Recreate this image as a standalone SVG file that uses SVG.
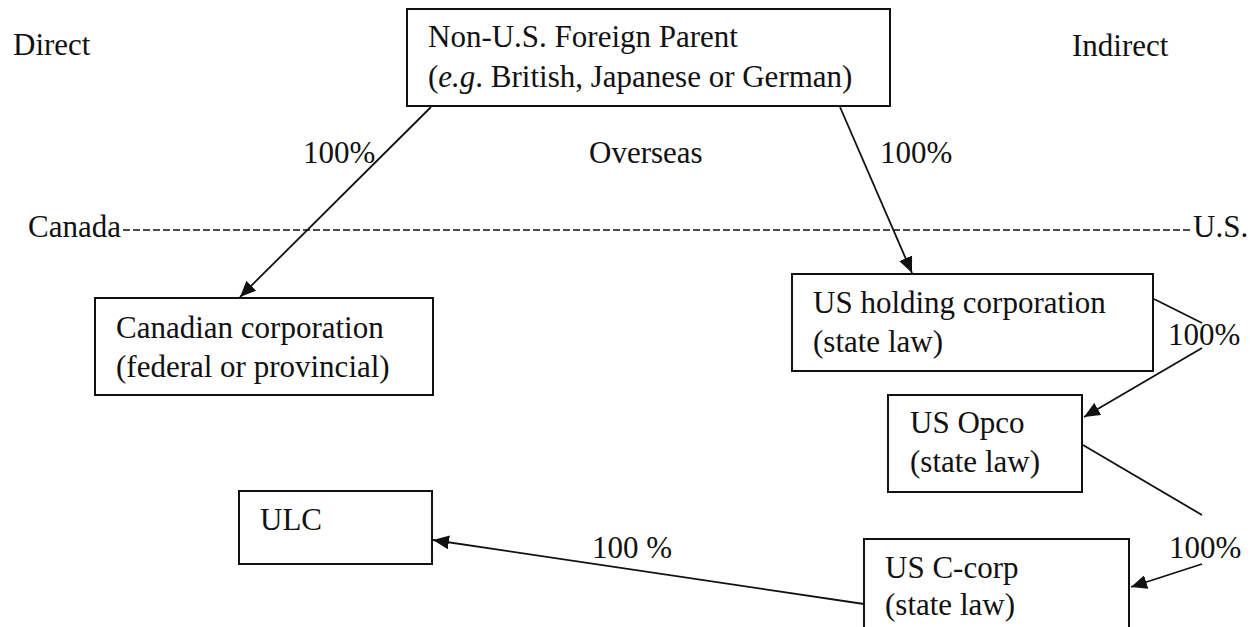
<svg xmlns="http://www.w3.org/2000/svg" width="1253" height="627" viewBox="0 0 1253 627">
<style>
text{font-family:"Liberation Serif","Times New Roman",serif;font-size:31px;fill:#111}
.box{fill:#fff;stroke:#111;stroke-width:2}
.conn{fill:none;stroke:#111;stroke-width:1.8}
.div{fill:none;stroke:#111;stroke-width:1.4;stroke-dasharray:7 3}
</style>
<defs>
<marker id="arr" markerUnits="userSpaceOnUse" markerWidth="18" markerHeight="14" refX="16" refY="7" orient="auto">
<path d="M0,0 L16,7 L0,14 Z" fill="#111"/>
</marker>
</defs>
<rect width="1253" height="627" fill="#fff"/>
<g id="labels">
<text x="13" y="55">Direct</text>
<text x="1072" y="56">Indirect</text>
<text x="589" y="163">Overseas</text>
<text x="28" y="237">Canada</text>
<text x="1193" y="237">U.S.</text>
<line class="div" x1="123" y1="230" x2="1192" y2="230"/>
</g>
<g id="connectors">
<line class="conn" x1="431" y1="107" x2="240" y2="297" marker-end="url(#arr)"/>
<line class="conn" x1="840" y1="107" x2="912" y2="273" marker-end="url(#arr)"/>
<line class="conn" x1="1154" y1="299" x2="1202" y2="323"/>
<line class="conn" x1="1202" y1="348" x2="1084" y2="417" marker-end="url(#arr)"/>
<line class="conn" x1="1083" y1="445" x2="1202" y2="515"/>
<line class="conn" x1="1202" y1="564" x2="1131" y2="587" marker-end="url(#arr)"/>
<line class="conn" x1="864" y1="604" x2="433" y2="540" marker-end="url(#arr)"/>
<text x="303" y="163">100%</text>
<text x="880" y="163">100%</text>
<text x="1168" y="345">100%</text>
<text x="1169" y="558">100%</text>
<text x="592" y="558">100 %</text>
</g>
<g id="parent">
<rect class="box" x="407" y="9" width="483" height="97"/>
<text x="428" y="47">Non-U.S. Foreign Parent</text>
<text x="428" y="87">(<tspan font-style="italic">e.g</tspan>. British, Japanese or German)</text>
</g>
<g id="canadian">
<rect class="box" x="95" y="298" width="338" height="97"/>
<text x="116" y="338">Canadian corporation</text>
<text x="116" y="377">(federal or provincial)</text>
</g>
<g id="usholding">
<rect class="box" x="792" y="274" width="361" height="97"/>
<text x="813" y="313">US holding corporation</text>
<text x="813" y="352">(state law)</text>
</g>
<g id="usopco">
<rect class="box" x="888" y="395" width="194" height="97"/>
<text x="910" y="433">US Opco</text>
<text x="910" y="472">(state law)</text>
</g>
<g id="ulc">
<rect class="box" x="239" y="491" width="193" height="73"/>
<text x="260" y="530">ULC</text>
</g>
<g id="usccorp">
<rect class="box" x="864" y="539" width="265" height="100"/>
<text x="885" y="578">US C-corp</text>
<text x="885" y="615">(state law)</text>
</g>
</svg>
